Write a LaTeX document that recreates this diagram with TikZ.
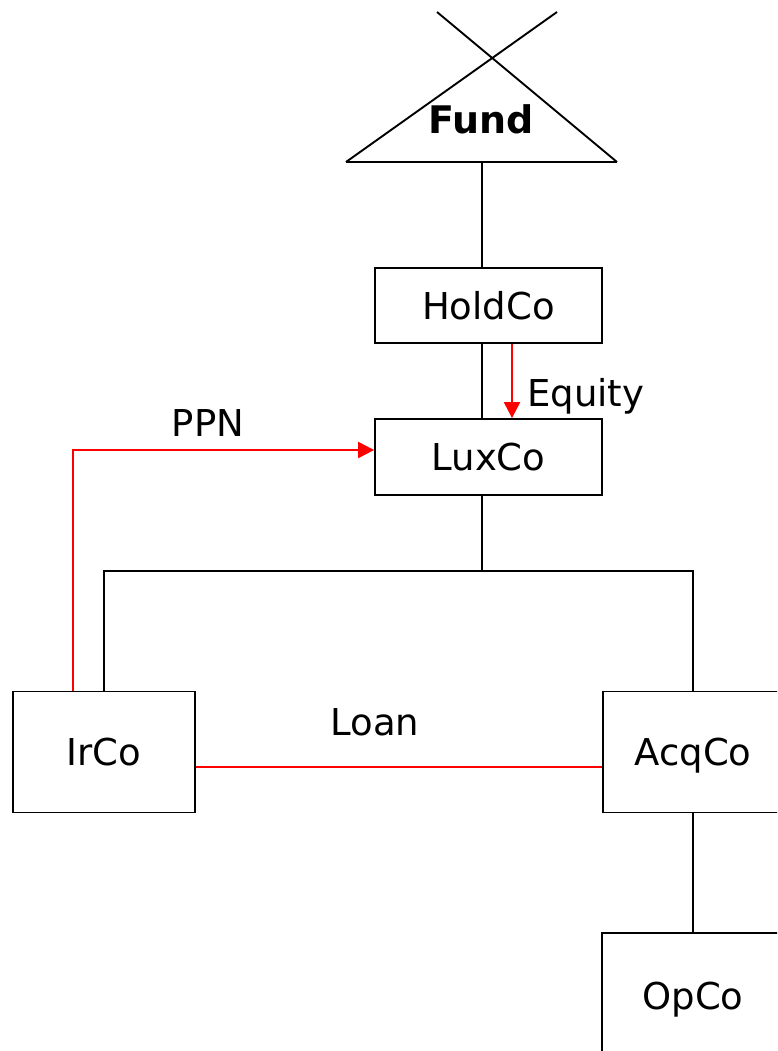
\documentclass[tikz,border=0pt]{standalone}
\usepackage{fontspec}
\setmainfont{DejaVu Sans}
\usetikzlibrary{arrows.meta}
\begin{document}
\begin{tikzpicture}[x=1pt,y=-1pt,
  entity/.style={draw, line width=1.8pt, inner sep=0pt,
    font=\fontsize{37}{41}\selectfont, text height=27pt, text depth=0pt},
  lbl/.style={font=\fontsize{37}{41}\selectfont, inner sep=0pt},
  link/.style={line width=2.3pt, black},
  flow/.style={line width=2.2pt, red},
  flowarrow/.style={flow, -{Triangle[length=16pt,width=16pt]}}]
\clip (0,0) rectangle (777,1051);

% Fund symbol: triangle with crossed top
\coordinate (fl) at (346,162);
\coordinate (fr) at (617,162);
\coordinate (xl) at (437,12);
\coordinate (xr) at (557,12);
\coordinate (fb) at (482,162);
\draw[line width=1.9pt] (fl) -- (fr);
\draw[line width=1.9pt] (fl) -- (xr);
\draw[line width=1.9pt] (fr) -- (xl);
\node[lbl, anchor=base, font=\fontsize{38}{42}\selectfont\bfseries] (Fund) at (481,134) {Fund};

% Entities
\node[entity, minimum width=227pt, minimum height=75pt] (HoldCo) at (488.5,305.5) {HoldCo};
\node[entity, minimum width=227pt, minimum height=76pt] (LuxCo) at (488.5,457) {LuxCo};
\node[entity, minimum width=182pt, minimum height=121pt] (IrCo) at (104,752) {IrCo};
\node[entity, minimum width=180pt, minimum height=121pt] (AcqCo) at (693,752) {AcqCo};
\node[entity, minimum width=182pt, minimum height=125pt] (OpCo) at (693,995.5) {OpCo};

% Helper coordinates for connector rows and columns
\coordinate (spine) at (482,0);
\coordinate (eqx) at (512,0);
\coordinate (barmid) at (482,571);
\coordinate (ppnx) at (73,0);
\coordinate (ppnrow) at (0,450);
\coordinate (loanrow) at (0,767);

% Ownership lines
\draw[link] (fb) -- (HoldCo.north -| fb);
\draw[link] (HoldCo.south -| spine) -- (LuxCo.north -| spine);
\draw[link] (LuxCo.south -| spine) -- (barmid);
\draw[link] (IrCo.north) -- (IrCo.north |- barmid) -- (AcqCo.north |- barmid) -- (AcqCo.north);
\draw[link] (AcqCo.south) -- (OpCo.north);

% Financing flows
\draw[flowarrow] (HoldCo.south -| eqx) -- (LuxCo.north -| eqx);
\draw[flowarrow] (IrCo.north -| ppnx) |- (LuxCo.west |- ppnrow);
\draw[flow] (IrCo.east |- loanrow) -- (AcqCo.west |- loanrow);

% Flow labels
\node[lbl, anchor=base west] (Equity) at (527,406) {Equity};
\node[lbl, anchor=base] (PPN) at (208,436) {PPN};
\node[lbl, anchor=base] (Loan) at (375,735) {Loan};
\end{tikzpicture}
\end{document}
